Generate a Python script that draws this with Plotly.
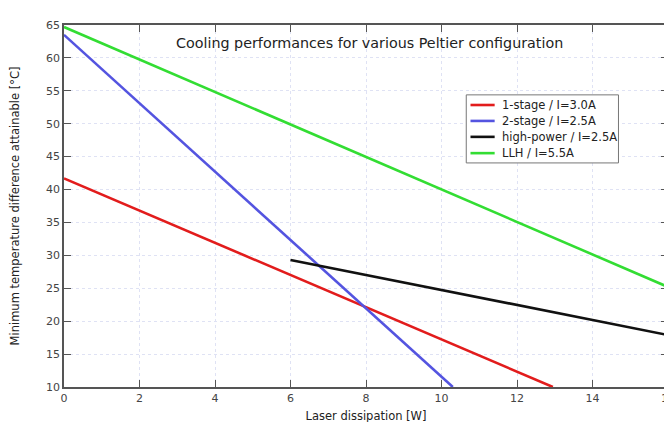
import plotly.graph_objects as go

# Data
red_x = [0, 12.95]
red_y = [41.7, 10.0]
blue_x = [0, 10.3]
blue_y = [63.5, 10.0]
black_x = [6, 16]
black_y = [29.3, 17.9]
green_x = [0, 16]
green_y = [64.7, 25.2]

names = ["1-stage / I=3.0A", "2-stage / I=2.5A", "high-power / I=2.5A", "LLH / I=5.5A"]
colors = ["#e21c1c", "#5454e0", "#111111", "#33dd33"]
xs = [red_x, blue_x, black_x, green_x]
ys = [red_y, blue_y, black_y, green_y]

x_ticks = [0, 2, 4, 6, 8, 10, 12, 14, 16]
y_ticks = [10, 15, 20, 25, 30, 35, 40, 45, 50, 55, 60, 65]

FONT = "DejaVu Sans"

fig = go.Figure()
for x, y, n, c in zip(xs, ys, names, colors):
    fig.add_trace(go.Scatter(x=x, y=y, mode="lines", name=n, showlegend=False,
                             line=dict(color=c, width=2.6)))

axis_common = dict(
    showline=True, linecolor="#555555", linewidth=1.5, mirror="ticks",
    ticks="inside", ticklen=7, tickwidth=1.2, tickcolor="#555555",
    showgrid=True, gridcolor="#dfe2f4", griddash="dot", gridwidth=1,
    zeroline=False, tickfont=dict(family=FONT, size=11, color="#444444"),
)

# Custom legend box (paper coordinates)
shapes = [dict(type="rect", xref="paper", yref="paper",
               x0=0.666, x1=0.918, y0=0.619, y1=0.807,
               line=dict(color="#777777", width=1), fillcolor="white", layer="above")]
annotations = [dict(text="Cooling performances for various Peltier configuration",
                    x=0.505, xref="paper", y=0.950, yref="paper",
                    showarrow=False, xanchor="center", yanchor="middle",
                    font=dict(family=FONT, size=14.3, color="#222222"))]
entry_y = [0.779, 0.735, 0.691, 0.646]
for n, c, yy in zip(names, colors, entry_y):
    shapes.append(dict(type="line", xref="paper", yref="paper",
                       x0=0.673, x1=0.713, y0=yy, y1=yy,
                       line=dict(color=c, width=2.6), layer="above"))
    annotations.append(dict(text=n, xref="paper", yref="paper", x=0.722, y=yy,
                            xanchor="left", yanchor="middle", showarrow=False,
                            font=dict(family=FONT, size=11.5, color="#222222")))

fig.update_layout(
    width=672, height=422,
    margin=dict(l=56, r=5, t=17, b=43),
    paper_bgcolor="white", plot_bgcolor="white",
    font=dict(family=FONT, color="#222222"),
    showlegend=False,
    shapes=shapes,
    annotations=annotations,
)
fig.update_xaxes(range=[0, 16], tickvals=x_ticks, **axis_common,
                 title=dict(text="Laser dissipation [W]", standoff=8,
                            font=dict(family=FONT, size=11.5, color="#222222")))
fig.update_yaxes(range=[10, 65], tickvals=y_ticks, **axis_common,
                 title=dict(text="Minimum temperature difference attainable [°C]", standoff=24,
                            font=dict(family=FONT, size=11.5, color="#222222")))

fig.write_html("out.html")
